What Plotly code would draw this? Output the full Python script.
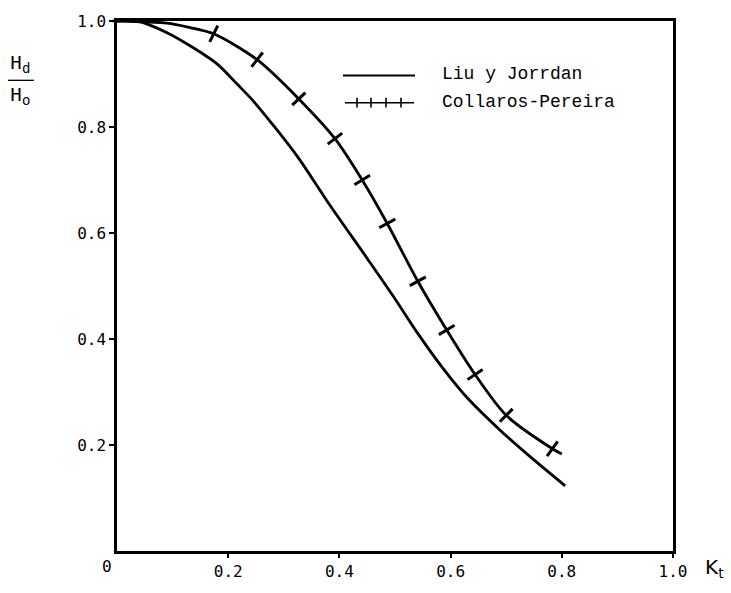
import numpy as np
import plotly.graph_objects as go

# Liu y Jorrdan correlation: diffuse fraction H_d/H_o vs clearness index K_t
liu_kt = [0.0, 0.036, 0.090, 0.138, 0.180, 0.216, 0.246, 0.324, 0.378, 0.450,
          0.496, 0.540, 0.586, 0.629, 0.689, 0.743, 0.806]
liu_hd = [1.0, 1.0, 0.978, 0.949, 0.919, 0.881, 0.848, 0.745, 0.660, 0.552,
          0.482, 0.412, 0.345, 0.290, 0.228, 0.178, 0.123]

# Collares-Pereira correlation
cp_kt = [0.0, 0.09, 0.13, 0.174, 0.252, 0.327, 0.392, 0.441, 0.486, 0.541,
         0.593, 0.644, 0.700, 0.783, 0.800]
cp_hd = [1.0, 0.996, 0.988, 0.976, 0.927, 0.853, 0.778, 0.700, 0.618, 0.509,
         0.417, 0.333, 0.256, 0.193, 0.183]
cp_mark_idx = list(range(3, 14))  # points carrying a cross tick

x_ticks = [0.2, 0.4, 0.6, 0.8, 1.0]
x_tick_text = ["0.2", "0.4", "0.6", "0.8", "1.0"]
y_ticks = [0.2, 0.4, 0.6, 0.8, 1.0]
y_tick_text = ["0.2", "0.4", "0.6", "0.8", "1.0"]

W, H = 731, 593
ML, MR, MT, MB = 117, 58, 15, 33
px_x = W - ML - MR   # pixels per unit K_t
px_y = H - MT - MB   # pixels per unit H_d/H_o

LINE_FONT = "Liberation Mono"
TICK_FONT = "DejaVu Sans Mono"

fig = go.Figure()

fig.add_trace(go.Scatter(
    x=liu_kt, y=liu_hd, mode="lines",
    line=dict(color="black", width=2.8, shape="spline", smoothing=0.8),
    showlegend=False, hoverinfo="skip"))

fig.add_trace(go.Scatter(
    x=cp_kt, y=cp_hd, mode="lines",
    line=dict(color="black", width=2.8, shape="spline", smoothing=0.8),
    showlegend=False, hoverinfo="skip"))

# cross ticks drawn perpendicular to the curve
kx = np.array(cp_kt) * px_x
ky = -np.array(cp_hd) * px_y
dx = np.gradient(kx)
dy = np.gradient(ky)
angles = np.degrees(np.arctan2(dy, dx))
mk_x = [cp_kt[i] for i in cp_mark_idx]
mk_y = [cp_hd[i] for i in cp_mark_idx]
mk_a = [float(angles[i]) for i in cp_mark_idx]
fig.add_trace(go.Scatter(
    x=mk_x, y=mk_y, mode="markers",
    marker=dict(symbol="line-ns", size=13, angle=mk_a,
                line=dict(color="black", width=3)),
    showlegend=False, hoverinfo="skip"))


def px2paper(px, py):
    return (px - ML) / px_x, (H - MB - py) / px_y


shapes = []
# legend: solid line
x0, y0 = px2paper(343, 71)
x1, _ = px2paper(415, 71)
shapes.append(dict(type="line", xref="paper", yref="paper", x0=x0, x1=x1, y0=y0, y1=y0,
                   line=dict(color="black", width=2)))
# legend: line with cross ticks
x0, y1 = px2paper(345, 99)
x1, _ = px2paper(414, 99)
shapes.append(dict(type="line", xref="paper", yref="paper", x0=x0, x1=x1, y0=y1, y1=y1,
                   line=dict(color="black", width=1.6)))
for tpx in (357, 371, 386, 401):
    tx, ty0 = px2paper(tpx, 94)
    _, ty1 = px2paper(tpx, 104)
    shapes.append(dict(type="line", xref="paper", yref="paper", x0=tx, x1=tx, y0=ty0, y1=ty1,
                       line=dict(color="black", width=1.6)))
# fraction bar of the y title
fx0, fy = px2paper(8, 76)
fx1, _ = px2paper(34, 76)
shapes.append(dict(type="line", xref="paper", yref="paper", x0=fx0, x1=fx1, y0=fy, y1=fy,
                   line=dict(color="black", width=1.3)))
# top frame edge overhanging the y axis slightly
tx0, ty = px2paper(112, 15)
shapes.append(dict(type="line", xref="paper", yref="paper", x0=tx0, x1=0, y0=1, y1=1,
                   line=dict(color="black", width=2.5)))

annotations = []
lx, ly = px2paper(440, 70)
annotations.append(dict(xref="paper", yref="paper", x=lx, y=ly, xanchor="left", yanchor="middle",
                        text="Liu y Jorrdan", showarrow=False,
                        font=dict(family=LINE_FONT, size=18, color="black")))
lx, ly = px2paper(440, 98)
annotations.append(dict(xref="paper", yref="paper", x=lx, y=ly, xanchor="left", yanchor="middle",
                        text="Collaros-Pereira", showarrow=False,
                        font=dict(family=LINE_FONT, size=18, color="black")))
# y title H_d / H_o
hx, hy = px2paper(8, 60)
annotations.append(dict(xref="paper", yref="paper", x=hx, y=hy, xanchor="left", yanchor="middle",
                        text="H<sub>d</sub>", showarrow=False,
                        font=dict(family=LINE_FONT, size=20, color="black")))
hx, hy = px2paper(8, 93)
annotations.append(dict(xref="paper", yref="paper", x=hx, y=hy, xanchor="left", yanchor="middle",
                        text="H<sub>o</sub>", showarrow=False,
                        font=dict(family=LINE_FONT, size=20, color="black")))
# x title K_t
kx_, ky_ = px2paper(703, 577)
annotations.append(dict(xref="paper", yref="paper", x=kx_, y=ky_, xanchor="left", yanchor="middle",
                        text="K<sub>t</sub>", showarrow=False,
                        font=dict(family="DejaVu Sans", size=20, color="black")))
# origin label
ox, oy = px2paper(107, 576)
annotations.append(dict(xref="paper", yref="paper", x=ox, y=oy, xanchor="center", yanchor="middle",
                        text="0", showarrow=False,
                        font=dict(family=TICK_FONT, size=16, color="black")))

fig.update_layout(
    width=W, height=H,
    margin=dict(l=ML, r=MR, t=MT, b=MB, pad=0),
    paper_bgcolor="white", plot_bgcolor="white",
    shapes=shapes, annotations=annotations,
    showlegend=False,
)
fig.update_xaxes(
    range=[0, 1.0], tickvals=x_ticks, ticktext=x_tick_text,
    showgrid=False, zeroline=False,
    showline=True, linecolor="black", linewidth=2.5, mirror=True,
    ticks="outside", ticklen=4, tickwidth=1.5, tickcolor="black",
    tickfont=dict(family=TICK_FONT, size=16, color="black"),
)
fig.update_yaxes(
    range=[0, 1.0], tickvals=y_ticks, ticktext=y_tick_text,
    showgrid=False, zeroline=False,
    showline=True, linecolor="black", linewidth=2.5, mirror=True,
    ticks="outside", ticklen=5, tickwidth=1.5, tickcolor="black",
    tickfont=dict(family=TICK_FONT, size=16, color="black"),
)

fig.write_html("out.html")
